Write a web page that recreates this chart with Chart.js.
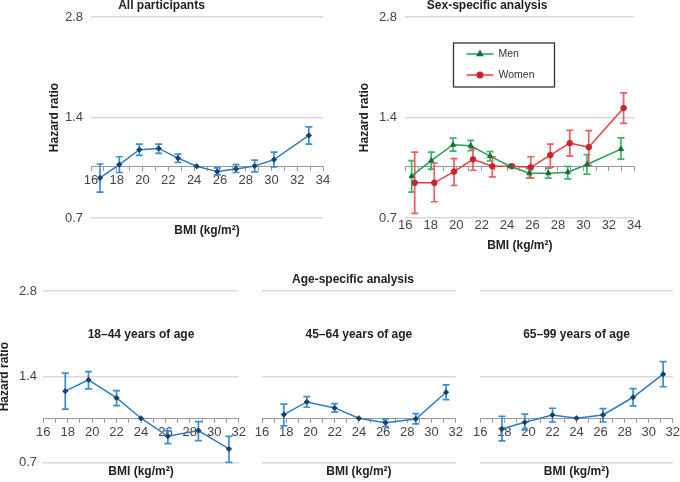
<!DOCTYPE html>
<html>
<head>
<meta charset="utf-8">
<script src="https://cdn.jsdelivr.net/npm/chart.js@4.4.1/dist/chart.umd.min.js"></script>
<style>
  html, body { margin: 0; padding: 0; background: #fff; }
  body { width: 680px; height: 482px; position: relative; overflow: hidden; }
  canvas { position: absolute; }
</style>
</head>
<body>
<canvas id="cAll" width="340" height="240" style="left:0px;top:-2px"></canvas>
<canvas id="cSex" width="340" height="255" style="left:340px;top:-2px"></canvas>
<canvas id="cY" width="252" height="207" style="left:-3px;top:272px"></canvas>
<canvas id="cM" width="215" height="207" style="left:250px;top:272px"></canvas>
<canvas id="cO" width="214" height="207" style="left:468px;top:272px"></canvas>
<script>
// ---------------- DATA ----------------
const yTicks = [0.7, 1.4, 2.8];
const topXRange = [16, 34];
const bottomXRange = [16, 32];

const allBMI = [16.7, 18.2, 19.75, 21.25, 22.75, 24.2, 25.8, 27.25, 28.7, 30.2, 32.9];
const allHR  = [0.923, 1.012, 1.121, 1.131, 1.058, 1.0, 0.964, 0.982, 1.002, 1.047, 1.237];
const allLo  = [0.837, 0.958, 1.078, 1.093, 1.028, null, 0.942, 0.958, 0.962, 0.995, 1.165];
const allHi  = [1.016, 1.068, 1.165, 1.165, 1.088, null, 0.989, 1.012, 1.044, 1.103, 1.312];

const menBMI = [16.5, 18.04, 19.75, 21.14, 22.66, 24.23, 25.75, 27.24, 28.77, 30.28, 32.95];
const menHR  = [0.934, 1.04, 1.16, 1.152, 1.073, 1.0, 0.953, 0.953, 0.96, 1.012, 1.126];
const menLo  = [0.837, 0.98, 1.11, 1.113, 1.037, null, 0.923, 0.921, 0.917, 0.947, 1.05];
const menHi  = [1.04, 1.103, 1.214, 1.195, 1.106, null, 0.984, 0.987, 1.0, 1.083, 1.217];

const womenBMI = [16.74, 18.28, 19.83, 21.32, 22.84, 24.39, 25.86, 27.4, 28.93, 30.42, 33.16];
const womenHR  = [0.892, 0.892, 0.964, 1.049, 1.0, 1.0, 0.993, 1.08, 1.173, 1.141, 1.494];
const womenLo  = [0.723, 0.783, 0.876, 0.973, 0.93, null, 0.923, 0.993, 1.073, 1.007, 1.345];
const womenHi  = [1.103, 1.023, 1.054, 1.129, 1.068, null, 1.068, 1.165, 1.282, 1.279, 1.66];

const ageBMI = [17.8, 19.7, 22.0, 24.0, 26.2, 28.7, 31.2];
const young18HR = [1.245, 1.364, 1.179, 1.0, 0.864, 0.905, 0.78];
const young18Lo = [1.076, 1.268, 1.107, null, 0.814, 0.834, 0.70];
const young18Hi = [1.44, 1.458, 1.25, null, 0.905, 0.973, 0.864];

const mid45HR = [1.03, 1.141, 1.087, 1.0, 0.965, 0.994, 1.234];
const mid45Lo = [0.94, 1.093, 1.05, null, 0.934, 0.955, 1.163];
const mid45Hi = [1.12, 1.191, 1.125, null, 0.994, 1.038, 1.31];

const old65HR = [0.917, 0.968, 1.027, 1.0, 1.027, 1.185, 1.428];
const old65Lo = [0.832, 0.91, 0.97, null, 0.97, 1.105, 1.29];
const old65Hi = [1.016, 1.033, 1.084, null, 1.08, 1.271, 1.58];

// ---------------- STYLE ----------------
Chart.defaults.font.family = "'Liberation Sans', Arial, Helvetica, sans-serif";
Chart.defaults.color = '#444';
const FONT_BOLD = { size: 12, weight: 'bold' };
const TICK_FONT = { size: 13 };
const GRID = '#d9d9d9';
const AXIS = '#9a9a9a';
const TITLE_COLOR = '#222';

const BLUE = { line: '#2b7ec4', err: '#3a8fd6', pt: '#1d3f66', style: 'rectRot', r: 2.6 };
const GREEN = { line: '#22a352', err: '#39b66a', pt: '#1e6a3d', style: 'triangle', r: 3 };
const RED = { line: '#e63b40', err: '#ee5d62', pt: '#c6272d', style: 'circle', r: 2.8 };

function pts(xs, ys) { return xs.map((x, i) => ({ x: x, y: ys[i] })); }

function ds(label, xs, ys, lo, hi, c) {
  return {
    label: label,
    data: pts(xs, ys),
    errLo: lo, errHi: hi, errColor: c.err,
    borderColor: c.line, borderWidth: 1.5,
    backgroundColor: c.pt,
    pointBackgroundColor: c.pt, pointBorderColor: c.pt,
    pointStyle: c.style, pointRadius: c.r, pointBorderWidth: 1,
    tension: 0, fill: false
  };
}

// error bar plugin (uses library scales)
const errorBars = {
  id: 'errorBars',
  beforeDatasetsDraw(chart) {
    const ctx = chart.ctx;
    const xs = chart.scales.x, ys = chart.scales.y;
    chart.data.datasets.forEach(d => {
      if (!d.errLo) return;
      ctx.save();
      ctx.strokeStyle = d.errColor;
      ctx.lineWidth = 1.7;
      d.data.forEach((p, j) => {
        const lo = d.errLo[j], hi = d.errHi[j];
        if (lo == null || hi == null) return;
        const x = xs.getPixelForValue(p.x);
        const y1 = ys.getPixelForValue(lo), y2 = ys.getPixelForValue(hi);
        const w = 3.5;
        ctx.beginPath();
        ctx.moveTo(x, y1); ctx.lineTo(x, y2);
        ctx.moveTo(x - w, y1); ctx.lineTo(x + w, y1);
        ctx.moveTo(x - w, y2); ctx.lineTo(x + w, y2);
        ctx.stroke();
      });
      ctx.restore();
    });
  }
};

// inner title plugin
const innerTitle = {
  id: 'innerTitle',
  afterDraw(chart, args, opts) {
    if (!opts || !opts.text) return;
    const ctx = chart.ctx, a = chart.chartArea;
    ctx.save();
    ctx.font = 'bold 12px ' + Chart.defaults.font.family;
    ctx.fillStyle = TITLE_COLOR;
    ctx.textAlign = 'center';
    ctx.textBaseline = 'middle';
    ctx.fillText(opts.text, (a.left + a.right) / 2, a.top + opts.offset);
    ctx.restore();
  }
};

// boxed legend plugin
const boxLegend = {
  id: 'boxLegend',
  afterDraw(chart, args, opts) {
    if (!opts || !opts.show) return;
    const ctx = chart.ctx, a = chart.chartArea;
    const bx = a.left + 48.2, by = a.top + 26, bw = 101, bh = 44;
    ctx.save();
    ctx.fillStyle = '#fff';
    ctx.fillRect(bx, by, bw, bh);
    ctx.strokeStyle = '#333';
    ctx.lineWidth = 1.3;
    ctx.strokeRect(bx, by, bw, bh);
    const rows = [11, 32];
    chart.data.datasets.forEach((d, i) => {
      const y = by + rows[i];
      ctx.strokeStyle = d.borderColor;
      ctx.lineWidth = 1.5;
      ctx.beginPath();
      ctx.moveTo(bx + 13, y); ctx.lineTo(bx + 40, y);
      ctx.stroke();
      ctx.fillStyle = d.pointBackgroundColor;
      ctx.strokeStyle = d.pointBorderColor;
      Chart.helpers.drawPoint(ctx, { pointStyle: d.pointStyle, radius: d.pointRadius, rotation: 0, borderWidth: 1 }, bx + 26.5, y);
      ctx.fillStyle = '#333';
      ctx.font = '10.5px ' + Chart.defaults.font.family;
      ctx.textAlign = 'left';
      ctx.textBaseline = 'middle';
      ctx.fillText(d.label, bx + 45, y);
    });
    ctx.restore();
  }
};

function yScale(showLabels, width, tickPad, titlePadTop) {
  return {
    type: 'logarithmic',
    min: 0.7, max: 2.8,
    afterBuildTicks: s => { s.ticks = yTicks.map(v => ({ value: v })); },
    afterFit: s => { s.width = width; },
    ticks: {
      display: showLabels,
      font: TICK_FONT, color: '#444', padding: tickPad,
      callback: v => Number(v).toFixed(1)
    },
    grid: { color: GRID, lineWidth: 1.5, drawTicks: false },
    border: { display: false },
    title: {
      display: showLabels, text: 'Hazard ratio', font: FONT_BOLD, color: TITLE_COLOR,
      padding: { top: titlePadTop, bottom: 0 }
    }
  };
}

function axisAtOne(range, labels) {
  return {
    type: 'linear',
    position: { y: 1 },
    min: range[0], max: range[1],
    ticks: {
      display: labels,
      stepSize: 1, autoSkip: false, maxRotation: 0, minRotation: 0,
      font: TICK_FONT, color: '#444', padding: 2,
      callback: v => (v % 2 === 0 ? String(v) : '')
    },
    grid: { display: true, drawOnChartArea: false, drawTicks: true, tickLength: 4, color: AXIS, lineWidth: 1 },
    border: { display: true, color: AXIS, width: 1 }
  };
}

function bottomAxis(range, labels, height) {
  return {
    type: 'linear', axis: 'x',
    position: 'bottom',
    min: range[0], max: range[1],
    afterFit: s => { s.height = height; },
    ticks: {
      display: labels,
      stepSize: 1, autoSkip: false, maxRotation: 0, minRotation: 0,
      font: TICK_FONT, color: '#444', padding: 0,
      callback: v => (v % 2 === 0 ? String(v) : '')
    },
    grid: { display: false, drawTicks: false, tickLength: 0 },
    border: { display: false },
    title: { display: true, text: 'BMI (kg/m²)', font: FONT_BOLD, color: TITLE_COLOR, padding: { top: 0, bottom: 0 } }
  };
}

function makeChart(id, cfg) {
  return new Chart(document.getElementById(id), {
    type: 'line',
    data: { datasets: cfg.datasets },
    plugins: [errorBars, innerTitle, boxLegend],
    options: {
      responsive: false, animation: false, events: [],
      layout: { padding: cfg.padding },
      plugins: {
        legend: { display: false },
        tooltip: { enabled: false },
        title: cfg.title ? {
          display: true, text: cfg.title, font: FONT_BOLD, color: TITLE_COLOR,
          padding: { top: 0, bottom: cfg.titlePadBottom }
        } : { display: false },
        innerTitle: cfg.inner || {},
        boxLegend: { show: !!cfg.legend }
      },
      scales: cfg.scales
    }
  });
}

// Top-left: All participants
makeChart('cAll', {
  datasets: [ds('All', allBMI, allHR, allLo, allHi, BLUE)],
  padding: { left: 0, right: 17, top: 0, bottom: 0 },
  title: 'All participants', titlePadBottom: 4.6,
  scales: {
    x: axisAtOne(topXRange, true),
    xt: bottomAxis(topXRange, false, 20),
    y: yScale(true, 91, 8, 47.8)
  }
});

// Top-right: Sex-specific
makeChart('cSex', {
  datasets: [
    ds('Men', menBMI, menHR, menLo, menHi, GREEN),
    ds('Women', womenBMI, womenHR, womenLo, womenHi, RED)
  ],
  padding: { left: 0, right: 45.7, top: 0, bottom: 0 },
  title: 'Sex-specific analysis', titlePadBottom: 4.6,
  legend: true,
  scales: {
    x: bottomAxis(topXRange, true, 35),
    x1: axisAtOne(topXRange, false),
    y: yScale(true, 65.3, 8.3, 17.8)
  }
});

// Bottom: age-specific
makeChart('cY', {
  datasets: [ds('18–44', ageBMI, young18HR, young18Lo, young18Hi, BLUE)],
  padding: { left: 0, right: 10.3, top: 19, bottom: 0 },
  inner: { text: '18–44 years of age', offset: 44 },
  scales: {
    x: axisAtOne(bottomXRange, true),
    xt: bottomAxis(bottomXRange, false, 16.7),
    y: yScale(true, 46.3, 6.3, 0)
  }
});

makeChart('cM', {
  datasets: [ds('45–64', ageBMI, mid45HR, mid45Lo, mid45Hi, BLUE)],
  padding: { left: 0, right: 9, top: 0, bottom: 0 },
  title: 'Age-specific analysis', titlePadBottom: 4.6,
  inner: { text: '45–64 years of age', offset: 44 },
  scales: {
    x: axisAtOne(bottomXRange, true),
    xt: bottomAxis(bottomXRange, false, 16.7),
    y: yScale(false, 12, 0, 0)
  }
});

makeChart('cO', {
  datasets: [ds('65–99', ageBMI, old65HR, old65Lo, old65Hi, BLUE)],
  padding: { left: 0, right: 8.3, top: 19, bottom: 0 },
  inner: { text: '65–99 years of age', offset: 44 },
  scales: {
    x: axisAtOne(bottomXRange, true),
    xt: bottomAxis(bottomXRange, false, 16.7),
    y: yScale(false, 12.3, 0, 0)
  }
});
</script>
</body>
</html>
